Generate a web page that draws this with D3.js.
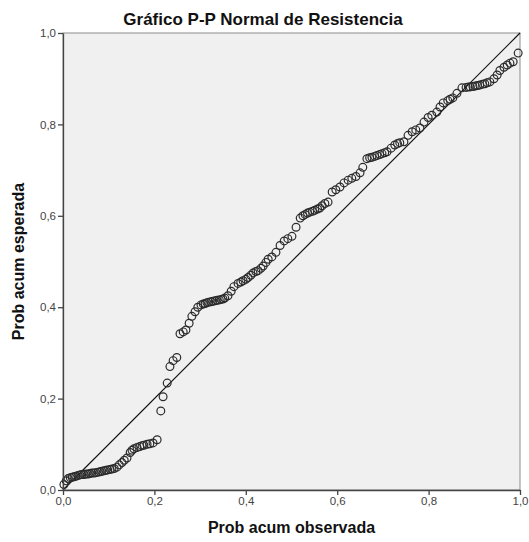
<!DOCTYPE html>
<html>
<head>
<meta charset="utf-8">
<script src="https://cdn.jsdelivr.net/npm/d3@7/dist/d3.min.js"></script>
<style>
  html, body { margin: 0; padding: 0; background: #fff; }
  svg { display: block; }
  text { font-family: "Liberation Sans", Arial, sans-serif; }
</style>
</head>
<body>
<svg id="chart" width="529" height="542"></svg>
<script>
// Observed cumulative probability (x) and expected cumulative probability (y)
const observed = [
  0.002, 0.007, 0.011, 0.016, 0.020, 0.024, 0.028, 0.033, 0.037, 0.041,
  0.046, 0.050, 0.055, 0.059, 0.063, 0.068, 0.072, 0.077, 0.081, 0.085,
  0.090, 0.094, 0.098, 0.103, 0.107, 0.112, 0.118, 0.123, 0.129, 0.134,
  0.140, 0.147, 0.151, 0.155, 0.162, 0.168, 0.173, 0.177, 0.184, 0.190,
  0.197, 0.206, 0.214, 0.219, 0.228, 0.234, 0.241, 0.249, 0.256, 0.263,
  0.269, 0.276, 0.282, 0.289, 0.295, 0.302, 0.307, 0.311, 0.315, 0.319,
  0.324, 0.328, 0.333, 0.337, 0.342, 0.346, 0.350, 0.354, 0.361, 0.368,
  0.374, 0.383, 0.389, 0.394, 0.400, 0.405, 0.411, 0.416, 0.422, 0.427,
  0.433, 0.438, 0.444, 0.449, 0.457, 0.466, 0.475, 0.484, 0.492, 0.501,
  0.510, 0.519, 0.525, 0.530, 0.535, 0.540, 0.546, 0.551, 0.557, 0.562,
  0.567, 0.573, 0.580, 0.589, 0.597, 0.606, 0.615, 0.624, 0.632, 0.641,
  0.650, 0.656, 0.665, 0.671, 0.676, 0.682, 0.687, 0.693, 0.698, 0.704,
  0.709, 0.718, 0.726, 0.732, 0.737, 0.746, 0.755, 0.764, 0.772, 0.781,
  0.790, 0.799, 0.807, 0.818, 0.825, 0.832, 0.842, 0.847, 0.853, 0.862,
  0.873, 0.882, 0.887, 0.891, 0.897, 0.902, 0.907, 0.912, 0.918, 0.923,
  0.928, 0.934, 0.943, 0.950, 0.956, 0.965, 0.972, 0.978, 0.985, 0.996
];
const expected = [
  0.012, 0.020, 0.025, 0.027, 0.028, 0.029, 0.030, 0.032, 0.033, 0.034,
  0.034, 0.035, 0.035, 0.036, 0.037, 0.037, 0.038, 0.039, 0.040, 0.041,
  0.042, 0.043, 0.044, 0.045, 0.046, 0.047, 0.050, 0.055, 0.060, 0.065,
  0.070, 0.082, 0.087, 0.090, 0.093, 0.095, 0.097, 0.098, 0.100, 0.101,
  0.103, 0.110, 0.173, 0.204, 0.234, 0.270, 0.283, 0.290, 0.342, 0.346,
  0.350, 0.365, 0.380, 0.390, 0.400, 0.405, 0.407, 0.408, 0.410, 0.411,
  0.412, 0.413, 0.414, 0.415, 0.416, 0.417, 0.418, 0.420, 0.425, 0.435,
  0.445, 0.452, 0.455, 0.458, 0.461, 0.465, 0.470, 0.475, 0.478, 0.480,
  0.485, 0.490, 0.498, 0.505, 0.510, 0.520, 0.535, 0.545, 0.550, 0.555,
  0.575, 0.595, 0.600, 0.603, 0.606, 0.608, 0.610, 0.612, 0.615, 0.617,
  0.622, 0.627, 0.630, 0.652, 0.657, 0.663, 0.672, 0.678, 0.682, 0.686,
  0.694, 0.706, 0.725, 0.727, 0.728, 0.730, 0.732, 0.734, 0.736, 0.738,
  0.740, 0.748, 0.755, 0.758, 0.760, 0.762, 0.776, 0.784, 0.788, 0.792,
  0.805, 0.815, 0.820, 0.827, 0.838, 0.847, 0.852, 0.855, 0.858, 0.868,
  0.880, 0.881, 0.882, 0.882, 0.883, 0.884, 0.885, 0.886, 0.888, 0.889,
  0.891, 0.893, 0.900, 0.908, 0.918, 0.925, 0.930, 0.934, 0.937, 0.956
];
const tickValues = [0, 0.2, 0.4, 0.6, 0.8, 1.0];
const tickLabels = ["0,0", "0,2", "0,4", "0,6", "0,8", "1,0"];
const titleText = "Gráfico P-P Normal de Resistencia";
const xLabel = "Prob acum observada";
const yLabel = "Prob acum esperada";

const svg = d3.select("#chart");
const margin = { left: 63, top: 33, right: 9, bottom: 52 };
const W = 529, H = 542;
const pw = W - margin.left - margin.right;
const ph = H - margin.top - margin.bottom;

const x = d3.scaleLinear().domain([0, 1]).range([margin.left, margin.left + pw]);
const y = d3.scaleLinear().domain([0, 1]).range([margin.top + ph, margin.top]);

// plot background
svg.append("rect")
  .attr("x", x(0)).attr("y", y(1))
  .attr("width", pw).attr("height", ph)
  .attr("fill", "#f0f0f0")
  .attr("stroke", "#8c8c8c").attr("stroke-width", 1);

// diagonal reference line
svg.append("line")
  .attr("x1", x(0)).attr("y1", y(0))
  .attr("x2", x(1)).attr("y2", y(1))
  .attr("stroke", "#111").attr("stroke-width", 1.2);

// points
const pts = observed.map((v, i) => [v, expected[i]]);
svg.append("g").selectAll("circle").data(pts).join("circle")
  .attr("cx", d => x(d[0])).attr("cy", d => y(d[1]))
  .attr("r", 3.9)
  .attr("fill", "none")
  .attr("stroke", "#2b2b2b").attr("stroke-width", 1.2);

// axes
const fmt = (d) => tickLabels[tickValues.indexOf(d)];
const xAxis = svg.append("g")
  .attr("transform", `translate(0,${y(0)})`)
  .call(d3.axisBottom(x).tickValues(tickValues).tickFormat(fmt).tickSize(5).tickPadding(2).tickSizeOuter(0));
const yAxis = svg.append("g")
  .attr("transform", `translate(${x(0)},0)`)
  .call(d3.axisLeft(y).tickValues(tickValues).tickFormat(fmt).tickSize(5).tickPadding(2).tickSizeOuter(0));

[xAxis, yAxis].forEach(g => {
  g.select(".domain").attr("stroke", "#444").attr("stroke-width", 1.3);
  g.selectAll(".tick line").attr("stroke", "#444").attr("stroke-width", 1.3);
  g.selectAll(".tick text").attr("fill", "#444").style("font-size", "11.5px")
    .style("font-family", "'Liberation Sans', Arial, sans-serif");
});

// title
svg.append("text")
  .attr("x", 263).attr("y", 25)
  .attr("text-anchor", "middle")
  .style("font-size", "17px").style("font-weight", "bold")
  .attr("fill", "#111")
  .text(titleText);

// x label
svg.append("text")
  .attr("x", x(0.5)).attr("y", 533)
  .attr("text-anchor", "middle")
  .style("font-size", "16px").style("font-weight", "bold")
  .attr("fill", "#111")
  .text(xLabel);

// y label
svg.append("text")
  .attr("transform", `translate(24,${y(0.5)}) rotate(-90)`)
  .attr("text-anchor", "middle")
  .style("font-size", "16px").style("font-weight", "bold")
  .attr("fill", "#111")
  .text(yLabel);
</script>
</body>
</html>
